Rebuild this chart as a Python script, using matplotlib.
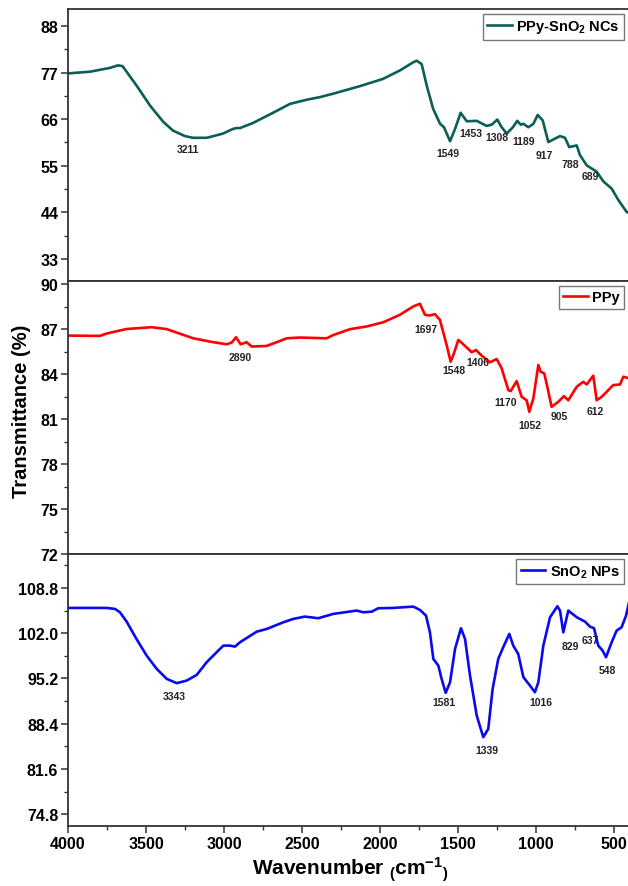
import numpy as np
import matplotlib
matplotlib.use("Agg")
from matplotlib import pyplot as plt
from matplotlib.ticker import MultipleLocator, FormatStrFormatter

plt.rcParams["font.family"] = ["Liberation Sans", "DejaVu Sans"]
plt.rcParams["font.weight"] = "bold"
plt.rcParams["mathtext.fontset"] = "custom"
plt.rcParams["mathtext.rm"] = "Liberation Sans:bold"
plt.rcParams["mathtext.default"] = "rm"

# PPy-SnO2 NCs spectrum (top)
nc_wn = [4000, 3859, 3731, 3679, 3650, 3560, 3474, 3390, 3327, 3250, 3199, 3110,
         3006, 2942, 2920, 2897, 2814, 2686, 2577, 2468, 2385, 2301, 2128, 1981,
         1872, 1788, 1765, 1733, 1701, 1660, 1615, 1590, 1551, 1519, 1483, 1444,
         1380, 1316, 1284, 1248, 1220, 1188, 1148, 1120, 1098, 1081, 1049, 1017,
         989, 957, 921, 889, 846, 814, 787, 739, 718, 675, 611, 568, 515, 472,
         419, 400]
nc_t = [76.8, 77.2, 78.1, 78.7, 78.5, 73.9, 69.2, 65.4, 63.3, 62.0, 61.6, 61.6,
        62.6, 63.7, 63.9, 63.9, 65.1, 67.5, 69.6, 70.6, 71.2, 72.0, 73.8, 75.5,
        77.5, 79.4, 79.8, 79.0, 74.0, 68.5, 64.9, 64.1, 60.8, 63.7, 67.5, 65.5,
        65.6, 64.4, 64.7, 65.9, 64.1, 62.6, 64.1, 65.6, 64.7, 64.9, 64.1, 64.9,
        67.0, 65.7, 60.6, 61.2, 62.0, 61.6, 59.4, 59.8, 57.5, 55.1, 53.6, 51.3,
        49.6, 46.9, 44.1, 43.8]
nc_peaks = ["3211", "1549", "1453", "1308", "1189", "917", "788", "689"]
nc_peak_x = [3233, 1562, 1419, 1252, 1077, 947, 778, 650]
nc_peak_y = [59.0, 58.1, 62.8, 61.8, 60.9, 57.5, 55.5, 52.6]

# PPy spectrum (middle)
ppy_wn = [4000, 3795, 3752, 3624, 3464, 3367, 3197, 3069, 2983, 2950, 2923, 2893,
          2855, 2823, 2727, 2662, 2598, 2513, 2342, 2299, 2192, 2085, 1979, 1872,
          1786, 1744, 1712, 1680, 1648, 1616, 1573, 1547, 1526, 1498, 1466, 1412,
          1385, 1348, 1295, 1252, 1220, 1177, 1162, 1124, 1092, 1060, 1043, 1017,
          985, 970, 947, 925, 900, 858, 821, 793, 739, 697, 675, 633, 611, 579,
          547, 505, 462, 440, 400]
ppy_t = [86.56, 86.54, 86.7, 87.0, 87.12, 86.99, 86.38, 86.12, 85.98, 86.1, 86.45, 85.98,
         86.12, 85.83, 85.87, 86.12, 86.38, 86.43, 86.38, 86.6, 86.99, 87.17, 87.45, 87.95,
         88.51, 88.68, 87.95, 87.9, 87.99, 87.61, 85.94, 84.82, 85.38, 86.27, 85.98, 85.45,
         85.6, 85.22, 84.78, 85.0, 84.37, 82.92, 82.86, 83.53, 82.48, 82.25, 81.48, 82.37,
         84.6, 84.15, 84.04, 83.03, 81.81, 82.14, 82.52, 82.25, 83.15, 83.48, 83.3, 83.89,
         82.25, 82.48, 82.81, 83.26, 83.3, 83.82, 83.7]
ppy_peaks = ["2890", "1697", "1548", "1406", "1170", "1052", "905", "612"]
ppy_peak_x = [2897, 1705, 1526, 1370, 1192, 1039, 851, 622]
ppy_peak_y = [85.16, 86.99, 84.26, 84.82, 82.1, 80.6, 81.2, 81.5]

# SnO2 NPs spectrum (bottom)
sno2_wn = [4000, 3752, 3699, 3667, 3624, 3560, 3496, 3431, 3367, 3303, 3239, 3175,
           3111, 3047, 3004, 2962, 2930, 2897, 2790, 2726, 2619, 2556, 2481, 2396,
           2300, 2150, 2107, 2053, 2011, 1915, 1787, 1744, 1705, 1680, 1658, 1626,
           1605, 1579, 1551, 1519, 1481, 1455, 1423, 1380, 1338, 1306, 1278, 1242,
           1210, 1171, 1146, 1114, 1081, 1039, 1007, 985, 953, 910, 863, 846, 825,
           793, 739, 686, 654, 628, 601, 573, 551, 515, 483, 451, 423, 400]
sno2_t = [105.8, 105.8, 105.65, 105.15, 103.74, 101.1, 98.64, 96.64, 95.14, 94.5, 94.89, 95.74,
          97.65, 99.15, 100.14, 100.14, 99.99, 100.65, 102.24, 102.64, 103.65, 104.15, 104.5, 104.25,
          104.9, 105.4, 105.15, 105.24, 105.75, 105.8, 106.0, 105.5, 104.64, 102.14, 98.14, 97.13,
          95.14, 93.04, 94.64, 99.64, 102.75, 101.14, 95.64, 89.63, 86.39, 87.63, 93.64, 98.14,
          99.9, 101.9, 100.14, 98.89, 95.4, 94.14, 93.14, 94.64, 100.14, 104.4, 106.05, 105.4, 102.14,
          105.4, 104.4, 103.74, 102.99, 102.75, 100.14, 99.39, 98.4, 100.65, 102.4, 102.9, 104.64, 107.0]
sno2_peaks = ["3343", "1581", "1339", "1016", "829", "637", "548"]
sno2_peak_x = [3316, 1590, 1316, 966, 778, 654, 543]
sno2_peak_y = [92.6, 91.6, 84.5, 91.6, 100.1, 101.0, 96.5]

W, H = 628, 887
fig = plt.figure(figsize=(W / 100, H / 100), dpi=100)

left = 68 / W
width = (629.6 - 68) / W
spine_col = "#333333"

panels = [
    # (top px, bottom px, wn, t, color, label, ylim, ystep, fmt, peaks)
    (10, 282, nc_wn, nc_t, "#0b5e57", "PPy-SnO$_2$ NCs", (27.8, 92.0), 11, "%d",
     (nc_peaks, nc_peak_x, nc_peak_y)),
    (282, 555, ppy_wn, ppy_t, "#ff0000", "PPy", (72.0, 90.2), 3, "%d",
     (ppy_peaks, ppy_peak_x, ppy_peak_y)),
    (555, 827.3, sno2_wn, sno2_t, "#0a0af0", "SnO$_2$ NPs", (73.0, 113.9), 6.8, "%.1f",
     (sno2_peaks, sno2_peak_x, sno2_peak_y)),
]

axes = []
for i, (ytop, ybot, wn, t, col, lab, ylim, ystep, fmt, pk) in enumerate(panels):
    ax = fig.add_axes([left, 1 - ybot / H, width, (ybot - ytop) / H])
    ax.plot(wn, t, color=col, lw=1.9, label=lab, solid_joinstyle="round")
    ax.set_xlim(4000, 400)
    ax.set_ylim(*ylim)
    ax.yaxis.set_major_locator(MultipleLocator(ystep))
    ax.yaxis.set_minor_locator(MultipleLocator(ystep / 2))
    ax.yaxis.set_major_formatter(FormatStrFormatter(fmt))
    ax.xaxis.set_major_locator(MultipleLocator(500))
    ax.xaxis.set_minor_locator(MultipleLocator(250))
    ax.tick_params(axis="both", which="major", direction="out", length=5, width=1.1,
                   labelsize=11.5, color=spine_col, pad=2)
    ax.tick_params(axis="both", which="minor", direction="out", length=3, width=1.0,
                   color=spine_col)
    ax.tick_params(axis="y", which="both", right=False)
    ax.tick_params(axis="x", which="both", top=False)
    if i < 2:
        ax.tick_params(axis="x", which="both", bottom=False, labelbottom=False)
    for s in ax.spines.values():
        s.set_color(spine_col)
        s.set_linewidth(1.3)
    for txt, px, py in zip(*pk):
        ax.text(px, py, txt, fontsize=7.5, fontweight="bold", ha="center", va="center",
                color="#222222")
    leg = ax.legend(loc="upper right", fontsize=10.5, handlelength=1.7, handletextpad=0.3,
                    borderpad=0.3, borderaxespad=0.35, fancybox=False, framealpha=1)
    leg.get_frame().set_edgecolor("#777777")
    leg.get_frame().set_linewidth(1.0)
    axes.append(ax)

fig.text(0.035, 0.536, "Transmittance (%)", rotation=90, ha="center", va="center",
         fontsize=14.5, fontweight="bold")
fig.text(0.557, 0.019, r"Wavenumber $_($cm$^{-1}$$_)$", ha="center", va="center",
         fontsize=15, fontweight="bold")

fig.savefig("out.png", dpi=100)
